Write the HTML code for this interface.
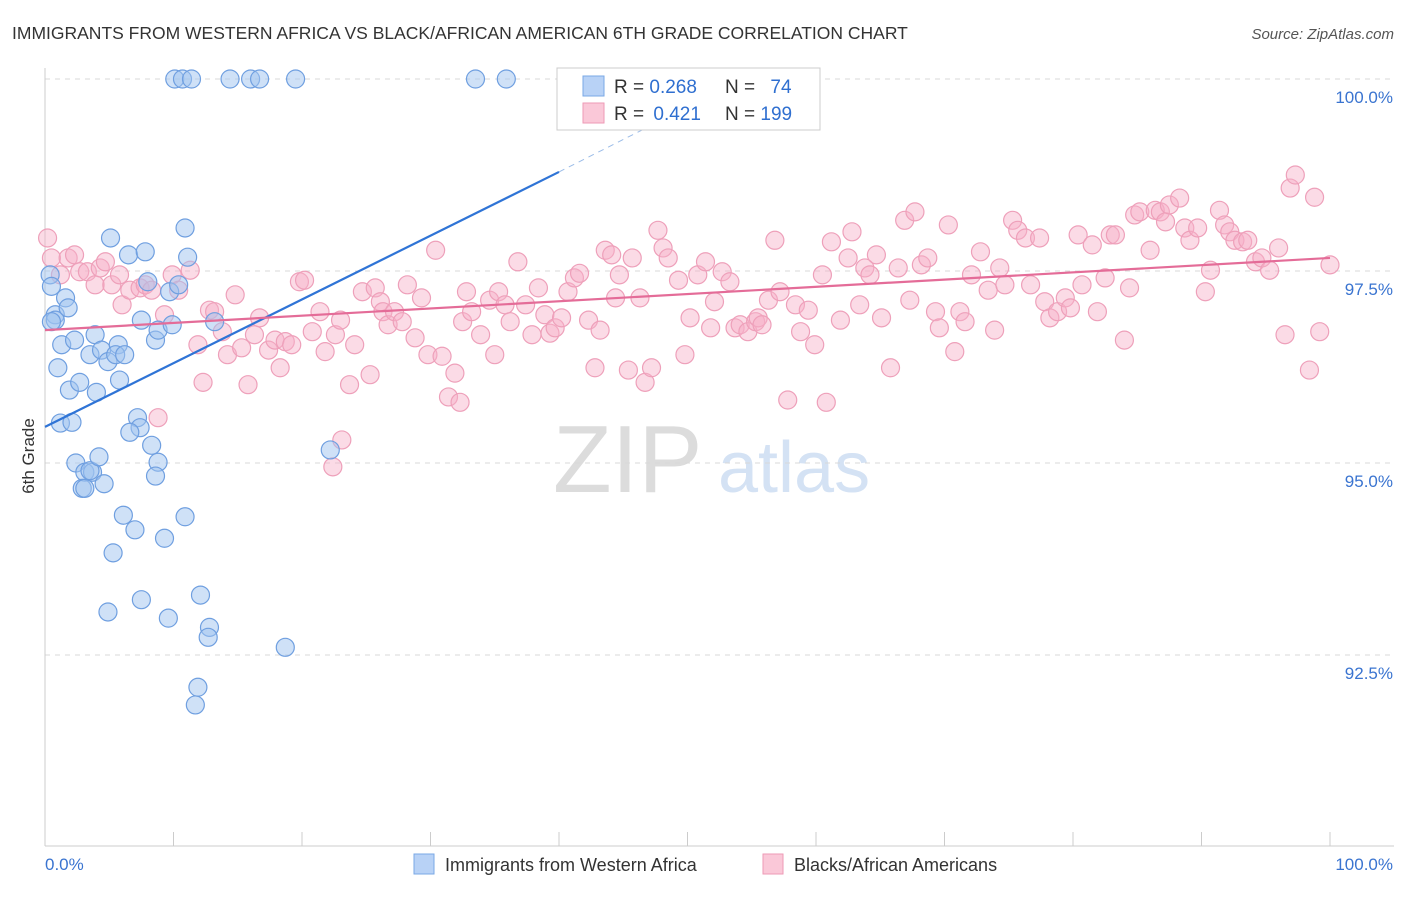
<!DOCTYPE html>
<html><head><meta charset="utf-8"><style>
body{margin:0;background:#fff;font-family:"Liberation Sans",sans-serif;}
svg text{font-family:"Liberation Sans",sans-serif;}
</style></head><body>
<svg id="chart" width="1406" height="892" viewBox="0 0 1406 892" xmlns="http://www.w3.org/2000/svg">
<text x="12" y="39" font-size="17.5" fill="#333">IMMIGRANTS FROM WESTERN AFRICA VS BLACK/AFRICAN AMERICAN 6TH GRADE CORRELATION CHART</text>
<text x="1394" y="39" font-size="15" fill="#555" text-anchor="end" font-style="italic">Source: ZipAtlas.com</text>
<g>
<text x="553" y="492" font-size="96" fill="#dcdcdc" font-family="Liberation Serif, serif">ZIP</text>
<text x="718" y="492" font-size="72" fill="#d4e2f4">atlas</text>
</g>
<g id="grid"></g>
<g id="axes"></g>
<g id="pts-pink"></g>
<g id="pts-blue"></g>
<g id="trends"></g>
<g>
<rect x="557" y="68" width="263" height="62" fill="#fff" stroke="#ccc"/>
<rect x="583" y="76" width="21" height="20" fill="#b8d2f6" stroke="#7aa8e6"/>
<rect x="583" y="103" width="21" height="20" fill="#fac8d8" stroke="#ee9ab6"/>
<text x="614" y="93" font-size="19" fill="#333">R = <tspan fill="#2f6fd0">0.268</tspan></text>
<text x="725" y="93" font-size="19" fill="#333">N = <tspan fill="#2f6fd0" dx="10">74</tspan></text>
<text x="614" y="120" font-size="19" fill="#333">R = <tspan fill="#2f6fd0" dx="4">0.421</tspan></text>
<text x="725" y="120" font-size="19" fill="#333">N = <tspan fill="#2f6fd0">199</tspan></text>
</g>
<g>
<rect x="414" y="854" width="20" height="20" fill="#b8d2f6" stroke="#7aa8e6"/>
<text x="445" y="871" font-size="18" fill="#333">Immigrants from Western Africa</text>
<rect x="763" y="854" width="20" height="20" fill="#fac8d8" stroke="#ee9ab6"/>
<text x="794" y="871" font-size="18" fill="#333">Blacks/African Americans</text>
</g>
<text transform="translate(34,456) rotate(-90)" font-size="17" fill="#333" text-anchor="middle">6th Grade</text>
</svg>
<script>
const yTicks=[100,97.5,95,92.5];
const yTickLabels=["100.0%","97.5%","95.0%","92.5%"];
const xTicks=[0,10,20,30,40,50,60,70,80,90,100];
const blueX=[10.1,10.7,11.4,14.4,16.0,16.7,19.5,33.5,35.9,0.4,0.5,0.8,0.8,0.5,1.6,1.8,1.3,2.3,1.0,1.9,2.7,1.2,2.1,2.4,3.1,3.7,3.5,4.2,2.9,3.1,4.6,3.5,3.9,4.4,4.9,5.7,5.5,6.2,5.8,4.0,5.1,6.5,7.8,8.0,7.5,8.6,8.8,9.9,9.7,10.9,11.1,10.4,13.2,7.2,7.4,6.6,8.3,8.8,8.6,6.1,7.0,5.3,9.3,10.9,4.9,7.5,9.6,12.1,12.8,12.7,18.7,11.9,11.7,22.2];
const blueY=[100,100,100,100,100,100,100,100,100,97.45,97.3,96.93,96.86,96.84,97.15,97.02,96.54,96.6,96.24,95.95,96.05,95.52,95.53,95.0,94.88,94.88,94.9,95.08,94.67,94.67,94.73,96.41,96.67,96.47,96.32,96.54,96.41,96.41,96.08,95.92,97.93,97.71,97.75,97.36,96.86,96.6,96.73,96.8,97.23,98.06,97.68,97.32,96.84,95.59,95.46,95.4,95.23,95.01,94.83,94.32,94.13,93.83,94.02,94.3,93.06,93.22,92.98,93.28,92.86,92.73,92.6,92.08,91.85,95.17];
const pinkX=[0.2,0.5,1.2,1.8,2.3,2.7,3.3,3.9,4.3,4.7,5.2,5.8,6.0,6.6,7.4,7.8,8.3,9.3,9.9,10.4,11.3,11.9,12.3,12.8,13.2,13.8,14.8,14.2,15.3,15.8,16.3,16.7,17.4,17.9,18.3,18.7,19.2,19.8,20.2,20.8,21.4,21.8,22.6,23.0,23.7,24.1,24.7,25.3,25.7,26.1,26.3,26.7,27.2,27.8,28.2,28.8,29.3,29.8,30.4,30.9,31.4,31.9,32.3,32.5,32.8,33.2,33.9,34.6,35.0,35.3,35.8,36.2,36.8,37.4,37.9,38.4,38.9,39.3,39.7,40.2,40.7,41.2,41.6,42.3,42.8,43.2,43.6,44.1,44.4,44.7,45.4,45.7,46.3,46.7,47.2,47.7,48.1,48.5,49.3,49.8,50.2,50.8,51.4,51.8,52.1,52.7,53.3,53.7,54.1,54.7,55.3,55.5,55.8,56.3,56.8,57.2,57.8,58.4,58.8,59.4,59.9,60.5,60.8,61.2,61.9,62.5,62.8,63.4,63.8,64.2,64.7,65.1,65.8,66.4,66.9,67.3,67.7,68.2,68.7,69.3,69.6,70.3,70.8,71.2,71.6,72.1,72.8,73.4,73.9,74.3,74.7,75.3,75.7,76.3,76.7,77.4,77.8,78.2,78.8,79.4,79.8,80.4,80.7,81.5,81.9,82.5,82.9,83.3,84.0,84.4,84.8,85.2,86.0,86.4,86.8,87.2,87.5,88.3,88.7,89.1,89.7,90.3,90.7,91.4,91.8,92.2,92.6,93.2,93.6,94.2,94.7,95.3,96.0,96.5,96.9,97.3,98.4,98.8,99.2,100.0,8.8,23.1,22.4];
const pinkY=[97.93,97.67,97.45,97.67,97.71,97.49,97.49,97.32,97.54,97.62,97.32,97.45,97.06,97.25,97.28,97.32,97.25,96.93,97.45,97.25,97.51,96.54,96.05,96.99,96.97,96.71,97.19,96.41,96.5,96.02,96.67,96.89,96.47,96.6,96.24,96.58,96.54,97.36,97.38,96.71,96.97,96.45,96.67,96.86,96.02,96.54,97.23,96.15,97.28,97.1,96.97,96.8,96.97,96.84,97.32,96.63,97.15,96.41,97.77,96.39,95.86,96.17,95.79,96.84,97.23,96.97,96.67,97.12,96.41,97.23,97.06,96.84,97.62,97.06,96.67,97.28,96.93,96.69,96.76,96.89,97.23,97.41,97.47,96.86,96.24,96.73,97.77,97.71,97.15,97.45,96.21,97.67,97.15,96.05,96.24,98.03,97.8,97.67,97.38,96.41,96.89,97.45,97.62,96.76,97.1,97.49,97.36,96.76,96.8,96.71,96.84,96.89,96.8,97.12,97.9,97.23,95.82,97.06,96.71,96.99,96.54,97.45,95.79,97.88,96.86,97.67,98.01,97.06,97.54,97.45,97.71,96.89,96.24,97.54,98.16,97.12,98.27,97.58,97.67,96.97,96.76,98.1,96.45,96.97,96.84,97.45,97.75,97.25,96.73,97.54,97.32,98.16,98.03,97.93,97.32,97.93,97.1,96.89,96.97,97.15,97.02,97.97,97.32,97.84,96.97,97.41,97.97,97.97,96.6,97.28,98.23,98.27,97.77,98.29,98.27,98.14,98.36,98.45,98.06,97.9,98.06,97.23,97.51,98.29,98.1,98.01,97.9,97.88,97.9,97.62,97.67,97.51,97.8,96.67,98.58,98.75,96.21,98.46,96.71,97.58,95.59,95.3,94.95];
const blueTrendX=[0,40,49];
const blueTrendY=[95.47,98.79,99.55];
const pinkTrendX=[0,100];
const pinkTrendY=[96.73,97.67];

const NS="http://www.w3.org/2000/svg";
const X0=45,X1=1330,YTOP=79,PX_PER_PCT=76.8;
function sx(v){return X0+(X1-X0)*v/100;}
function sy(v){return YTOP+(100-v)*PX_PER_PCT;}
function mk(tag,attrs,parent){const e=document.createElementNS(NS,tag);for(const k in attrs)e.setAttribute(k,attrs[k]);parent.appendChild(e);return e;}
const grid=document.getElementById('grid'),axes=document.getElementById('axes');
yTicks.forEach((t,i)=>{
  const l=mk('line',{x1:X0,x2:1394,y1:sy(t),y2:sy(t),stroke:'#d8d8d8','stroke-dasharray':'5,5'},grid);
  
  
  const tx=mk('text',{x:1393,y:sy(t)+24,'font-size':'17',fill:'#3a74d0','text-anchor':'end'},axes);
  tx.textContent=yTickLabels[i];
  
  
});
const ax=mk('line',{x1:X0,x2:X0,y1:68,y2:846,stroke:'#ccc'},axes);


const bx=mk('line',{x1:X0,x2:1394,y1:846,y2:846,stroke:'#ccc'},axes);


xTicks.forEach(t=>{
  const l=mk('line',{x1:sx(t),x2:sx(t),y1:832,y2:846,stroke:'#ccc'},axes);
  
  
});
const xl0=mk('text',{x:45,y:870,'font-size':'17',fill:'#3a74d0'},axes);xl0.textContent='0.0%';


const xl1=mk('text',{x:1393,y:870,'font-size':'17',fill:'#3a74d0','text-anchor':'end'},axes);xl1.textContent='100.0%';


const gp=document.getElementById('pts-pink');
pinkX.forEach((v,i)=>{
  const c=mk('circle',{cx:sx(v),cy:sy(pinkY[i]),r:9,fill:'rgba(246,176,200,0.45)',stroke:'#eea0ba','stroke-width':1.2},gp);
  
  
});
const gb=document.getElementById('pts-blue');
blueX.forEach((v,i)=>{
  const c=mk('circle',{cx:sx(v),cy:sy(blueY[i]),r:9,fill:'rgba(160,196,240,0.5)',stroke:'#6f9fe0','stroke-width':1.2},gb);
  
  
});
const tr=document.getElementById('trends');
const b1=mk('line',{x1:sx(blueTrendX[0]),y1:sy(blueTrendY[0]),x2:sx(blueTrendX[1]),y2:sy(blueTrendY[1]),stroke:'#2f74d6','stroke-width':2.2},tr);


const b2=mk('line',{x1:sx(blueTrendX[1]),y1:sy(blueTrendY[1]),x2:sx(blueTrendX[2]),y2:sy(blueTrendY[2]),stroke:'#9bbce8','stroke-width':1,'stroke-dasharray':'6,5'},tr);


const p1=mk('line',{x1:sx(pinkTrendX[0]),y1:sy(pinkTrendY[0]),x2:sx(pinkTrendX[1]),y2:sy(pinkTrendY[1]),stroke:'#e46c98','stroke-width':2.2},tr);


</script>
</body></html>
